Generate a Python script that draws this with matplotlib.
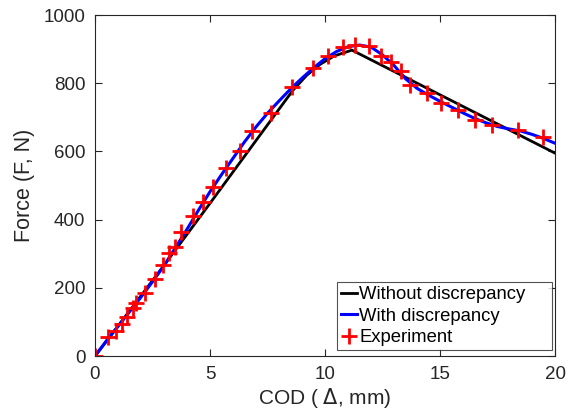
import matplotlib.pyplot as plt

plt.rcParams['font.family'] = ['Liberation Sans', 'DejaVu Sans']

# experiment points (COD mm, Force N)
exp_x = [0.0, 0.57, 0.91, 1.17, 1.39, 1.65, 1.78, 2.17, 2.61, 2.96, 3.22, 3.48, 3.74,
         4.26, 4.70, 5.13, 5.70, 6.30, 6.83, 7.65, 8.57, 9.48, 10.13, 10.78, 11.30,
         11.91, 12.43, 12.87, 13.30, 13.70, 14.43, 15.04, 15.78, 16.52, 17.26, 18.39, 19.48]
exp_y = [0, 56, 73, 94, 114, 141, 155, 185, 226, 267, 302, 320, 364,
         411, 452, 496, 551, 601, 660, 713, 789, 845, 880, 906, 912,
         909, 880, 862, 836, 795, 771, 742, 721, 692, 677, 663, 642]

# model without discrepancy
nod_x = [0, 1, 2, 3, 4, 5, 6, 7, 8, 8.6, 9.2, 9.8, 10.4, 11.17, 20]
nod_y = [0, 88, 177, 266, 357, 448, 540, 632, 724, 779, 823, 856, 880, 897, 595]

# model with discrepancy
wd_x = [0, 0.5, 1, 1.5, 2, 2.5, 3, 3.5, 4, 4.5, 5, 5.5, 6, 6.5, 7, 7.5, 8, 8.5, 9, 9.5,
        10, 10.5, 11, 11.5, 12, 12.5, 13, 13.5, 14, 14.5, 15, 15.5, 16, 16.5, 17, 17.5,
        18, 18.5, 19, 19.5, 20]
wd_y = [0, 45, 87, 130, 173, 218, 265, 318, 372, 428, 482, 532, 580, 628, 672, 712,
        748, 783, 815, 845, 872, 893, 907, 912, 906, 883, 852, 813, 785, 765, 747,
        730, 713, 697, 684, 673, 666, 660, 650, 638, 624]

fig = plt.figure(figsize=(5.67, 4.17), dpi=100)
ax = fig.add_axes([0.1675, 0.146, 0.8115, 0.818])

ax.plot(nod_x, nod_y, color='black', lw=2, label='Without discrepancy')
ax.plot(wd_x, wd_y, color='blue', lw=2.2, label='With discrepancy')
ax.plot(exp_x, exp_y, ls='none', marker='+', ms=11, mew=2, color='red', label='Experiment')

ax.set_xlim(0, 20)
ax.set_ylim(0, 1000)
ax.set_xticks([0, 5, 10, 15, 20])
ax.set_yticks([0, 200, 400, 600, 800, 1000])
ax.tick_params(direction='in', top=True, right=True, labelsize=13.5, colors='#262626',
               length=5, pad=7)
for s in ax.spines.values():
    s.set_color('#262626')
ax.set_xlabel('COD ( $\\Delta$, mm)', fontsize=15, color='#262626', labelpad=2)
ax.set_ylabel('Force (F, N)', fontsize=15.5, color='#262626', labelpad=6)

leg = ax.legend(loc='lower left', bbox_to_anchor=(0.526, 0.018, 0.468, 0.2), mode='expand',
                fontsize=13.3, handlelength=0.9, handletextpad=0.1,
                borderpad=0.2, labelspacing=0.25, fancybox=False, edgecolor='#262626',
                borderaxespad=0)
leg.get_frame().set_linewidth(0.8)

fig.savefig('out.png')
